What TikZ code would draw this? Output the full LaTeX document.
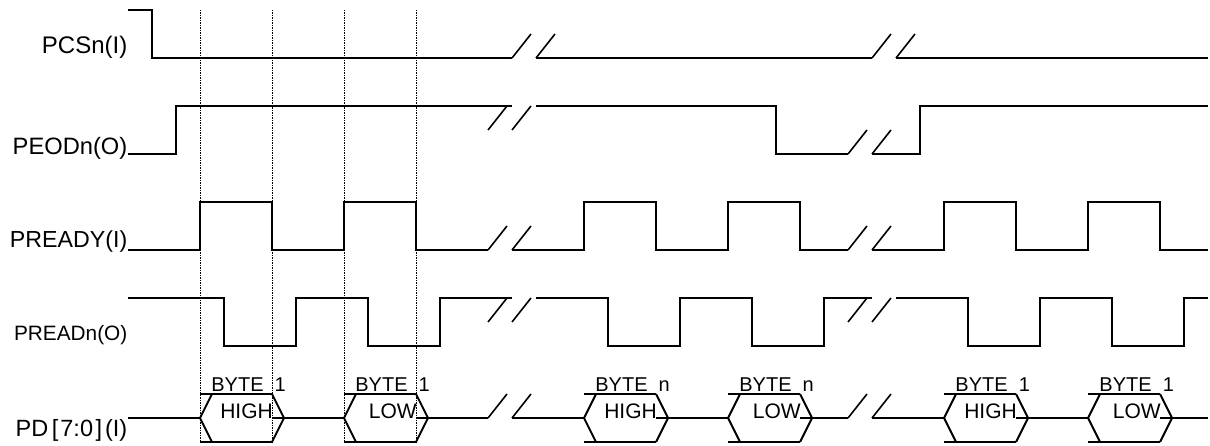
\documentclass[tikz,border=0pt]{standalone}
\usepackage{fontspec}
\setmainfont{Liberation Sans}
\newcommand{\fs}[1]{\fontsize{#1pt}{#1pt}\selectfont}
\begin{document}
\begin{tikzpicture}[x=1pt,y=-1pt,
  sig/.style={line width=2pt},
  brkline/.style={line width=1.6pt},
  guide/.style={line width=1.3pt, dash pattern=on 1.3pt off 1.2pt},
  lbl/.style={inner sep=0pt, anchor=base east},
  bytelbl/.style={inner sep=0pt, anchor=base west, font=\fs{20}},
  datalbl/.style={inner sep=0pt, anchor=base east, font=\fs{21}}]
\useasboundingbox (0,0) rectangle (1210,446);
\fill[white] (0,0) rectangle (1210,446);
% guide lines
\foreach \x/\n in {200.5/g1,272.5/g2,344.5/g3,416.5/g4}{
  \coordinate (\n t) at (\x,10);
  \coordinate (\n b) at (\x,443);
  \draw[guide] (\n t) -- (\n b);
}
% labels
\node[lbl, font=\fs{24}] (lcs) at (127.5,53.3) {PCSn(I)};
\node[lbl, font=\fs{23.7}] (leo) at (127.5,154.5) {PEODn(O)};
\node[lbl, font=\fs{23.2}] (lrdy) at (127.5,247.5) {PREADY(I)};
\node[lbl, font=\fs{20.8}] (lrd) at (127.5,340.7) {PREADn(O)};
\node[lbl, font=\fs{23.5}] (lpd) at (127.5,436.7) {PD\hspace{3.5pt}[\hspace{2pt}7:0\hspace{2.5pt}]\hspace{3pt}(I)};
% break marks
\newcommand{\brkmark}[2]{%
  \draw[brkline] (#1,#2) -- ++(19,-24);
  \draw[brkline] (#1+24,#2) -- ++(19,-24);}
\brkmark{512}{58}\brkmark{872}{58}
\brkmark{488}{130}\brkmark{848}{154}
\brkmark{488}{250}\brkmark{848}{250}
\brkmark{488}{322}\brkmark{848}{322}
\brkmark{488}{418}\brkmark{848}{418}
% PCSn
\draw[sig] (128,10) -- (152,10) -- (152,58) -- (512,58);
\draw[sig] (536,58) -- (872,58);
\draw[sig] (896,58) -- (1208,58);
% PEODn
\draw[sig] (128,154) -- (176,154) -- (176,106) -- (512,106);
\draw[sig] (536,106) -- (776,106) -- (776,154) -- (848,154);
\draw[sig] (872,154) -- (920,154) -- (920,106) -- (1208,106);
% PREADY
\draw[sig] (128,250) -- (200,250) -- (200,202) -- (272,202) -- (272,250)
  -- (344,250) -- (344,202) -- (416,202) -- (416,250) -- (488,250);
\draw[sig] (512,250) -- (584,250) -- (584,202) -- (656,202) -- (656,250)
  -- (728,250) -- (728,202) -- (800,202) -- (800,250) -- (848,250);
\draw[sig] (872,250) -- (944,250) -- (944,202) -- (1016,202) -- (1016,250)
  -- (1088,250) -- (1088,202) -- (1160,202) -- (1160,250) -- (1208,250);
% PREADn
\draw[sig] (128,298) -- (224,298) -- (224,346) -- (296,346) -- (296,298)
  -- (368,298) -- (368,346) -- (440,346) -- (440,298) -- (512,298);
\draw[sig] (536,298) -- (608,298) -- (608,346) -- (680,346) -- (680,298)
  -- (752,298) -- (752,346) -- (824,346) -- (824,298) -- (872,298);
\draw[sig] (896,298) -- (968,298) -- (968,346) -- (1040,346) -- (1040,298)
  -- (1112,298) -- (1112,346) -- (1184,346) -- (1184,298) -- (1208,298);
% PD bus
\draw[sig] (128,418) -- (200,418);
\draw[sig] (272,418) -- (344,418);
\draw[sig] (416,418) -- (488,418);
\draw[sig] (512,418) -- (584,418);
\draw[sig] (656,418) -- (728,418);
\draw[sig] (800,418) -- (848,418);
\draw[sig] (872,418) -- (944,418);
\draw[sig] (1016,418) -- (1088,418);
\draw[sig] (1160,418) -- (1208,418);
\foreach \x/\a/\b/\n in {200/1/HIGH/h1,344/1/LOW/h2,584/n/HIGH/h3,728/n/LOW/h4,944/1/HIGH/h5,1088/1/LOW/h6}{
  \draw[sig] (\x,394) -- (\x+72,394);
  \draw[sig] (\x,442) -- (\x+72,442);
  \draw[sig] (\x+12,394) -- (\x,418) -- (\x+12,442);
  \draw[sig] (\x+72,394) -- (\x+84,418) -- (\x+72,442);
  \node[bytelbl] (\n b) at (\x+11.2,391.7) {BYTE~~\a};
  \node[datalbl] (\n d) at (\x+73,418.5) {\b};
}
\end{tikzpicture}
\end{document}
